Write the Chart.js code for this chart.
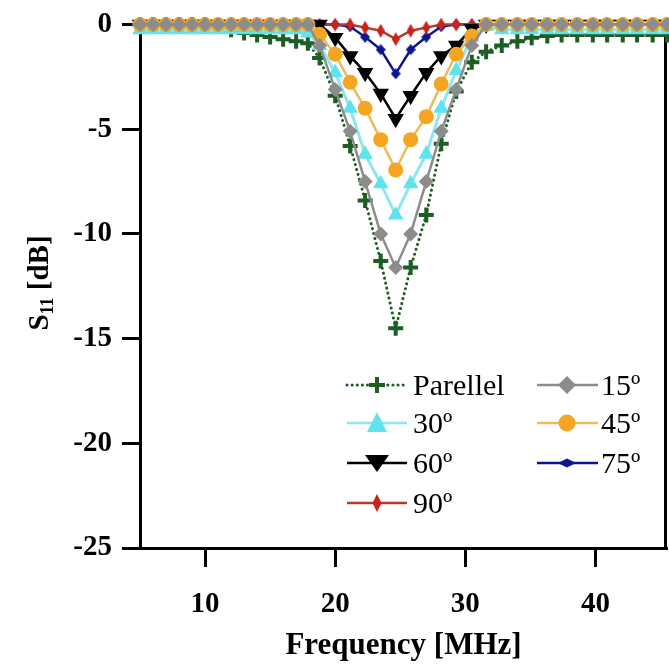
<!DOCTYPE html>
<html>
<head>
<meta charset="utf-8">
<script src="https://cdn.jsdelivr.net/npm/chart.js@4.4.1/dist/chart.umd.min.js"></script>
<style>
  html, body { margin: 0; padding: 0; background: #fff; }
</style>
</head>
<body>
<canvas id="chart" width="669" height="665"></canvas>
<script>
// S11 vs frequency, different orientation angles

const FREQ = [5.0, 6.0, 7.0, 8.0, 9.0, 10.0, 11.0, 12.0, 13.0, 14.0, 15.0, 16.0, 17.0, 17.9, 18.8,
  20.0, 21.15, 22.3, 23.5, 24.65, 25.8, 27.0, 28.15, 29.3, 30.5, 31.6, 32.8, 34.0, 35.1, 36.3,
  37.4, 38.6, 39.8, 40.9, 42.1, 43.2, 44.4, 45.5];

const PARALLEL = [0, 0, 0, 0, 0, 0, -0.1, -0.25, -0.4, -0.5, -0.6, -0.7, -0.8, -0.9, -1.6,
  -3.4, -5.8, -8.4, -11.3, -14.5, -11.6, -9.1, -5.7, -3.2, -1.8, -1.3, -1.0, -0.8, -0.63, -0.55,
  -0.5, -0.5, -0.5, -0.5, -0.5, -0.5, -0.5, -0.5];
const DEG15 = [0, 0, 0, 0, 0, 0, 0, 0, 0, 0, 0, 0, 0, 0, -1.0,
  -3.1, -5.1, -7.5, -10.0, -11.6, -10.0, -7.5, -5.1, -3.1, -1.0, 0, 0, 0, 0, 0,
  0, 0, 0, 0, 0, 0, 0, 0];
const DEG30 = [-0.25, -0.25, -0.25, -0.25, -0.25, -0.25, -0.25, -0.25, -0.25, -0.25, -0.25, -0.25, -0.25, -0.4, -1.0,
  -2.3, -4.0, -6.2, -7.6, -9.1, -7.6, -6.2, -4.0, -2.2, -0.6, -0.1, -0.25, -0.25, -0.25, -0.25,
  -0.25, -0.25, -0.25, -0.25, -0.25, -0.25, -0.25, -0.25];
const DEG45 = [0, 0, 0, 0, 0, 0, 0, 0, 0, 0, 0, 0, 0, 0, -0.47,
  -1.42, -2.76, -4.0, -5.5, -6.95, -5.5, -4.4, -2.84, -1.42, -0.55, 0, 0, 0, 0, 0,
  0, 0, 0, 0, 0, 0, 0, 0];
const DEG60 = [0, 0, 0, 0, 0, 0, 0, 0, 0, 0, 0, 0, 0, 0, 0,
  -0.63, -1.5, -2.3, -3.3, -4.5, -3.4, -2.3, -1.5, -1.0, -0.2, 0, 0, 0, 0, 0,
  0, 0, 0, 0, 0, 0, 0, 0];
const DEG75 = [0, 0, 0, 0, 0, 0, 0, 0, 0, 0, 0, 0, 0, 0, 0,
  0, -0.1, -0.6, -1.2, -2.35, -1.2, -0.6, -0.1, 0, 0, 0, 0, 0, 0, 0,
  0, 0, 0, 0, 0, 0, 0, 0];
const DEG90 = [0, 0, 0, 0, 0, 0, 0, 0, 0, 0, 0, 0, 0, 0, 0,
  0, 0, -0.15, -0.3, -0.7, -0.3, -0.15, 0, 0, 0, 0, 0, 0, 0, 0,
  0, 0, 0, 0, 0, 0, 0, 0];

const SERIES_LABELS = ['Parellel', '15º', '30º', '45º', '60º', '75º', '90º'];
const X_TICKS = [10, 20, 30, 40];
const Y_TICKS = [0, -5, -10, -15, -20, -25];

const FONT = '"Liberation Serif", "Times New Roman", serif';

function pts(ys){ return FREQ.map((f, i) => ({ x: f, y: ys[i] })); }

// small canvases for the stretched diamonds
function diamondImg(w, h, color){
  const c = document.createElement('canvas');
  c.width = w; c.height = h;
  const g = c.getContext('2d');
  g.fillStyle = color;
  g.beginPath();
  g.moveTo(w/2, 0); g.lineTo(w, h/2); g.lineTo(w/2, h); g.lineTo(0, h/2);
  g.closePath(); g.fill();
  return c;
}

const C = {
  green: '#1d5e22', gray: '#8c8c8c', cyan: '#5fe3ec', cyanLine: '#8ee6ee',
  orange: '#f4a623', orangeLine: '#efb95c', black: '#000000',
  navy: '#0b168f', red: '#cc2219', redLine: '#b4382e'
};

const navyPt = diamondImg(10, 11, C.navy);
const redPt = diamondImg(8, 14, C.red);

// legend drawn by hand in two columns
function legendMarker(ctx, idx, x, y){
  ctx.save();
  ctx.beginPath();
  switch(idx){
    case 0:
      ctx.strokeStyle = C.green; ctx.lineWidth = 4;
      ctx.moveTo(x-8, y); ctx.lineTo(x+8, y); ctx.moveTo(x, y-8); ctx.lineTo(x, y+8);
      ctx.stroke(); break;
    case 1:
      ctx.fillStyle = C.gray;
      ctx.moveTo(x, y-9); ctx.lineTo(x+9, y); ctx.lineTo(x, y+9); ctx.lineTo(x-9, y);
      ctx.closePath(); ctx.fill(); break;
    case 2:
      ctx.fillStyle = C.cyan;
      ctx.moveTo(x, y-11); ctx.lineTo(x+10, y+9); ctx.lineTo(x-10, y+9);
      ctx.closePath(); ctx.fill(); break;
    case 3:
      ctx.fillStyle = C.orange;
      ctx.arc(x, y, 8.5, 0, Math.PI*2); ctx.fill(); break;
    case 4:
      ctx.fillStyle = C.black;
      ctx.moveTo(x-12, y-8); ctx.lineTo(x+12, y-8); ctx.lineTo(x, y+9);
      ctx.closePath(); ctx.fill(); break;
    case 5:
      ctx.fillStyle = C.navy;
      ctx.moveTo(x, y-4.5); ctx.lineTo(x+9, y); ctx.lineTo(x, y+4.5); ctx.lineTo(x-9, y);
      ctx.closePath(); ctx.fill(); break;
    case 6:
      ctx.fillStyle = C.red;
      ctx.moveTo(x, y-9); ctx.lineTo(x+4.5, y); ctx.lineTo(x, y+9); ctx.lineTo(x-4.5, y);
      ctx.closePath(); ctx.fill(); break;
  }
  ctx.restore();
}

const legendPlugin = {
  id: 'twoColLegend',
  afterDatasetsDraw(chart){
    const ctx = chart.ctx;
    const rows = [385, 423, 463, 503];
    const cols = [{ x1: 347, x2: 407, m: 377, t: 413 }, { x1: 537, x2: 598, m: 567, t: 601 }];
    const lineCol = [C.green, C.gray, C.cyanLine, C.orangeLine, C.black, C.navy, C.redLine];
    SERIES_LABELS.forEach((lab, i) => {
      const r = rows[Math.floor(i/2)], c = cols[i % 2];
      ctx.save();
      ctx.strokeStyle = lineCol[i];
      ctx.lineWidth = i === 0 ? 3 : 2.5;
      if(i === 0){ ctx.setLineDash([0.1, 5]); ctx.lineCap = 'round'; }
      ctx.beginPath(); ctx.moveTo(c.x1, r); ctx.lineTo(c.x2, r); ctx.stroke();
      ctx.restore();
      legendMarker(ctx, i, c.m, r);
      ctx.save();
      ctx.fillStyle = '#000';
      ctx.font = '30px ' + FONT;
      ctx.textBaseline = 'alphabetic';
      ctx.fillText(lab, c.t, r + 10);
      ctx.restore();
    });
  }
};

// right frame line + y title with subscript
const framePlugin = {
  id: 'frame',
  beforeDatasetsDraw(chart){
    const { ctx, chartArea } = chart;
    ctx.save();
    ctx.strokeStyle = '#000';
    ctx.lineWidth = 3;
    ctx.beginPath();
    ctx.moveTo(chartArea.right - 1.5, chartArea.top);
    ctx.lineTo(chartArea.right - 1.5, chartArea.bottom + 1.5);
    ctx.stroke();
    ctx.restore();
  },
  afterDraw(chart){
    const ctx = chart.ctx;
    ctx.save();
    ctx.translate(38, 283);
    ctx.rotate(-Math.PI/2);
    ctx.fillStyle = '#000';
    const big = 'bold 29px ' + FONT, small = 'bold 18px ' + FONT;
    ctx.font = big; const wS = ctx.measureText('S').width; const wR = ctx.measureText(' [dB]').width;
    ctx.font = small; const wSub = ctx.measureText('11').width;
    let x = -(wS + wSub + wR) / 2;
    ctx.textBaseline = 'alphabetic';
    ctx.font = big; ctx.fillText('S', x, 10); x += wS;
    ctx.font = small; ctx.fillText('11', x, 15); x += wSub;
    ctx.font = big; ctx.fillText(' [dB]', x, 10);
    ctx.restore();
  }
};

const datasets = [
  { label: SERIES_LABELS[0], data: pts(PARALLEL), borderColor: C.green, borderWidth: 3,
    borderDash: [0.1, 5], borderCapStyle: 'round', pointStyle: 'cross', pointRadius: 7.5,
    pointBorderWidth: 4, pointBorderColor: C.green, pointBackgroundColor: C.green, order: 6 },
  { label: SERIES_LABELS[1], data: pts(DEG15), borderColor: C.gray, borderWidth: 2.5,
    pointStyle: 'rectRot', pointRadius: 7.5, pointBorderWidth: 0, pointBackgroundColor: C.gray, order: 0 },
  { label: SERIES_LABELS[2], data: pts(DEG30), borderColor: C.cyanLine, borderWidth: 3,
    pointStyle: 'triangle', pointRadius: 9, pointBorderWidth: 0, pointBackgroundColor: C.cyan, order: 2 },
  { label: SERIES_LABELS[3], data: pts(DEG45), borderColor: C.orangeLine, borderWidth: 2.5,
    pointStyle: 'circle', pointRadius: 7.5, pointBorderWidth: 0, pointBackgroundColor: C.orange, order: 1 },
  { label: SERIES_LABELS[4], data: pts(DEG60), borderColor: C.black, borderWidth: 2.5,
    pointStyle: 'triangle', pointRotation: 180, pointRadius: 9.5, pointBorderWidth: 0, pointBackgroundColor: C.black, order: 3 },
  { label: SERIES_LABELS[5], data: pts(DEG75), borderColor: C.navy, borderWidth: 2.5,
    pointStyle: navyPt, order: 5 },
  { label: SERIES_LABELS[6], data: pts(DEG90), borderColor: C.redLine, borderWidth: 2.5,
    pointStyle: redPt, order: 4 }
];
datasets.forEach(d => { d.clip = false; d.tension = 0; d.fill = false; });

new Chart(document.getElementById('chart'), {
  type: 'line',
  data: { datasets },
  plugins: [legendPlugin, framePlugin],
  options: {
    responsive: false,
    animation: false,
    layout: { autoPadding: false, padding: { top: 18, right: 2, left: 0, bottom: 0 } },
    plugins: { legend: { display: false }, tooltip: { enabled: false } },
    scales: {
      x: {
        type: 'linear', min: 5, max: 45.5,
        afterBuildTicks: s => { s.ticks = X_TICKS.map(v => ({ value: v })); },
        afterFit: s => { s.height = 117; s.paddingRight = 0; s.paddingLeft = 0; },
        grid: { display: true, drawOnChartArea: false, drawTicks: true, tickLength: 19, tickWidth: 3, tickColor: '#000' },
        border: { display: true, color: '#000', width: 3 },
        ticks: { color: '#000', font: { family: FONT, size: 29, weight: 'bold' }, padding: 20, maxRotation: 0 },
        title: { display: true, text: 'Frequency [MHz]', color: '#000',
          font: { family: FONT, size: 31, weight: 'bold' }, padding: { top: 0, bottom: 0 } }
      },
      y: {
        min: -25, max: 0,
        afterBuildTicks: s => { s.ticks = Y_TICKS.map(v => ({ value: v })); },
        afterFit: s => { s.width = 140; },
        grid: { display: true, drawOnChartArea: false, drawTicks: true, tickLength: 18, tickWidth: 3, tickColor: '#000' },
        border: { display: true, color: '#000', width: 3 },
        ticks: { color: '#000', font: { family: FONT, size: 29, weight: 'bold', lineHeight: 1.0 }, padding: 10 }
      }
    }
  }
});
</script>
</body>
</html>
